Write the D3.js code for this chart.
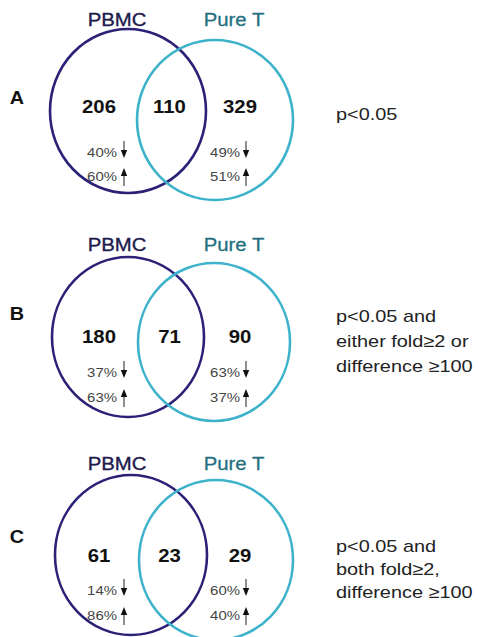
<!DOCTYPE html>
<html><head><meta charset="utf-8">
<script src="https://cdn.jsdelivr.net/npm/d3@7"></script>
<style>body{margin:0;background:#fff}svg{display:block}</style>
</head><body>
<script>
// Data
const panels = ["A", "B", "C"];
const sets = ["PBMC", "Pure T"];
const onlyPBMC = [206, 180, 61];
const shared = [110, 71, 23];
const onlyPureT = [329, 90, 29];
const pbmcDown = [40, 37, 14];
const pbmcUp = [60, 63, 86];
const pureTDown = [49, 63, 60];
const pureTUp = [51, 37, 40];
const criteria = [
  ["p<0.05"],
  ["p<0.05 and", "either fold\u22652 or", "difference \u2265100"],
  ["p<0.05 and", "both fold\u22652,", "difference \u2265100"]
];

const W = 479, H = 637;
const svg = d3.select("body").append("svg").attr("width", W).attr("height", H);

const yPanel = d3.scaleOrdinal().domain(panels).range([0, 225, 444]);
const xPos = d3.scalePoint().domain(["left", "mid", "right"]).range([99, 240]);
const colors = d3.scaleOrdinal().domain(sets).range(["#2b2277", "#3db2cb"]);
const labelColors = d3.scaleOrdinal().domain(sets).range(["#1f1b4d", "#236f80"]);
const font = "Liberation Sans, Arial, Helvetica, sans-serif";

// per-panel layout (positions only)
const layout = {
  A: {p: [128, 111, 78, 82], t: [215, 120, 78, 80], letterY: 104, numY: 113, pctY: [157, 181], critY: 120, critH: 24},
  B: {p: [128, 112, 76, 80], t: [214, 117, 76, 79], letterY: 95, numY: 118, pctY: [152, 177], critY: 97, critH: 25},
  C: {p: [131, 111, 76, 80], t: [216, 116, 77, 80], letterY: 99, numY: 118, pctY: [151, 176], critY: 108, critH: 23}
};

function addText(g, x, y, str, size, anchor, fill, weight, sx) {
  return g.append("text")
    .attr("transform", `translate(${x},${y}) scale(${sx || 1.15},1)`)
    .attr("text-anchor", anchor).attr("font-family", font).attr("font-size", size)
    .attr("font-weight", weight || "normal").attr("fill", fill).text(str);
}

function arrow(g, x, yTop, yBot, dir) {
  const hw = 3.2, hh = 8;
  g.append("line").attr("x1", x).attr("x2", x)
    .attr("y1", dir === "down" ? yTop : yTop + hh - 1)
    .attr("y2", dir === "down" ? yBot - hh + 1 : yBot)
    .attr("stroke", "#333").attr("stroke-width", 1.1);
  const p = d3.path();
  if (dir === "down") {
    p.moveTo(x - hw, yBot - hh); p.lineTo(x + hw, yBot - hh); p.lineTo(x, yBot); p.closePath();
  } else {
    p.moveTo(x - hw, yTop + hh); p.lineTo(x + hw, yTop + hh); p.lineTo(x, yTop); p.closePath();
  }
  g.append("path").attr("d", p.toString()).attr("fill", "#111");
}

panels.forEach((pn, i) => {
  const g = svg.append("g").attr("transform", `translate(0,${yPanel(pn)})`);
  const L = layout[pn];
  // circles
  [["PBMC", L.p], ["Pure T", L.t]].forEach(([s, c]) => {
    g.append("ellipse").attr("cx", c[0]).attr("cy", c[1]).attr("rx", c[2]).attr("ry", c[3])
      .attr("fill", "none").attr("stroke", colors(s)).attr("stroke-width", 2.6);
  });
  // set labels
  addText(g, 117, 26, sets[0], 18, "middle", labelColors(sets[0]), "normal", 1.13)
    .attr("stroke", labelColors(sets[0])).attr("stroke-width", 0.35);
  addText(g, 234, 26, sets[1], 18, "middle", labelColors(sets[1]), "normal", 1.13)
    .attr("stroke", labelColors(sets[1])).attr("stroke-width", 0.25);
  // panel letter
  addText(g, 17, L.letterY, pn, 18, "middle", "#111", "bold", 1.1);
  // counts
  [["left", onlyPBMC[i]], ["mid", shared[i]], ["right", onlyPureT[i]]].forEach(([k, v]) => {
    addText(g, xPos(k), L.numY, v, 18, "middle", "#111", "bold", 1.13);
  });
  // percentages with arrows
  const pct = [
    {x: 117, ax: 124, v: pbmcDown[i], dir: "down", y: L.pctY[0]},
    {x: 117, ax: 124, v: pbmcUp[i], dir: "up", y: L.pctY[1]},
    {x: 240, ax: 246, v: pureTDown[i], dir: "down", y: L.pctY[0]},
    {x: 240, ax: 246, v: pureTUp[i], dir: "up", y: L.pctY[1]}
  ];
  pct.forEach(d => {
    addText(g, d.x, d.y, d.v + "%", 13, "end", "#444", "normal", 1.15);
    if (d.dir === "down") arrow(g, d.ax, d.y - 16, d.y + 1, "down");
    else arrow(g, d.ax, d.y - 13, d.y + 5, "up");
  });
  // criteria text
  criteria[i].forEach((t, j) => {
    addText(g, 336, L.critY + j * L.critH, t, 17, "start", "#222", "normal", 1.17);
  });
});
</script>
</body></html>
